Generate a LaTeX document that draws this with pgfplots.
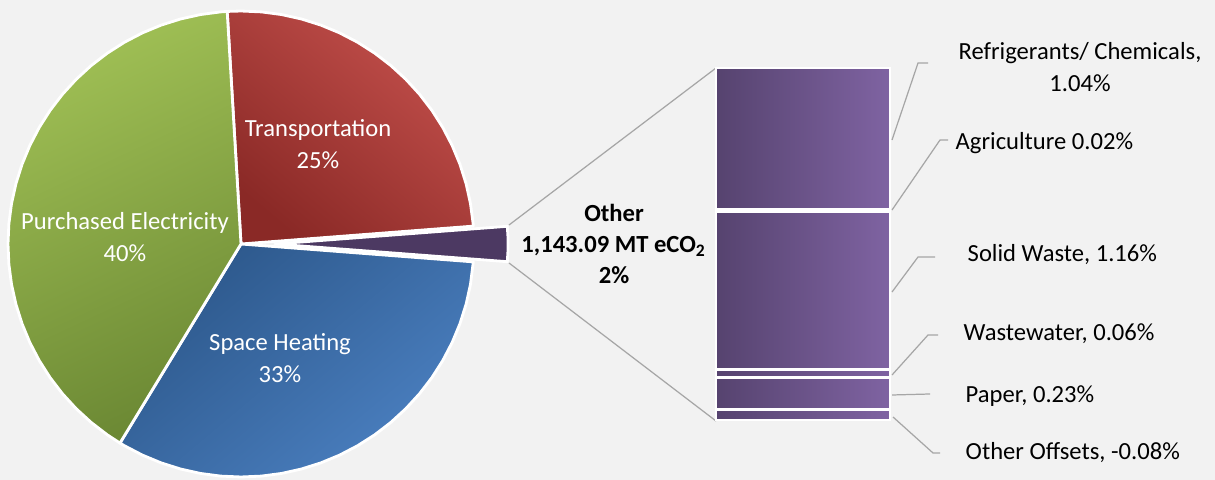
\documentclass[border=0pt]{standalone}
\usepackage{fontspec}
\setmainfont{Carlito}
\usepackage{pgfplots}
\pgfplotsset{compat=1.18}
\usepgfplotslibrary{polar}
\definecolor{bg}{HTML}{F2F2F2}
\definecolor{greenL}{HTML}{A0C055}
\definecolor{greenD}{HTML}{6C8934}
\definecolor{redL}{HTML}{C4504C}
\definecolor{redD}{HTML}{8A2926}
\definecolor{blueL}{HTML}{4B80C1}
\definecolor{blueD}{HTML}{2C578A}
\definecolor{purL}{HTML}{7F63A2}
\definecolor{purM}{HTML}{4C3962}
\definecolor{purE}{HTML}{56436F}
\definecolor{lead}{HTML}{A6A6A6}
\begin{document}
\begin{tikzpicture}
\fill[bg] (0,0) rectangle (12.15cm,4.8cm);
\begin{axis}[at={(0,0)}, anchor=south west, scale only axis,
  width=12.15cm, height=4.8cm,
  xmin=-241, xmax=974, ymin=-236, ymax=244,
  hide axis, clip=false]
% Transportation 25%
\addplot[data cs=polar, draw=white, line width=0.8pt, line join=round,
  top color=redL, bottom color=redD, shading angle=-40]
  coordinates {(0,0) (93.4,233) (90,233) (85,233) (80,233) (75,233) (70,233)
  (65,233) (60,233) (55,233) (50,233) (45,233) (40,233) (35,233) (30,233)
  (25,233) (20,233) (15,233) (10,233) (5,233) (4.4,233)} -- cycle;
% Space Heating 33%
\addplot[data cs=polar, draw=white, line width=0.8pt, line join=round,
  top color=blueD, bottom color=blueL, shading angle=40]
  coordinates {(0,0) (-4.4,233) (-10,233) (-15,233) (-20,233) (-25,233)
  (-30,233) (-35,233) (-40,233) (-45,233) (-50,233) (-55,233) (-60,233)
  (-65,233) (-70,233) (-75,233) (-80,233) (-85,233) (-90,233) (-95,233)
  (-100,233) (-105,233) (-110,233) (-115,233) (-120,233) (-121.3,233)} -- cycle;
% Purchased Electricity 40%
\addplot[data cs=polar, draw=white, line width=0.8pt, line join=round,
  top color=greenL, bottom color=greenD, shading angle=25]
  coordinates {(0,0) (238.7,233) (235,233) (230,233) (225,233) (220,233)
  (215,233) (210,233) (205,233) (200,233) (195,233) (190,233) (185,233)
  (180,233) (175,233) (170,233) (165,233) (160,233) (155,233) (150,233)
  (145,233) (140,233) (135,233) (130,233) (125,233) (120,233) (115,233)
  (110,233) (105,233) (100,233) (95,233) (93.4,233)} -- cycle;
% Other 2% (exploded)
\addplot[draw=white, line width=0.8pt, line join=round, fill=purM]
  coordinates {(34,0) (266.3,17.7) (266.9,8.1) (267,0) (266.9,-8.1) (266.3,-17.7)} -- cycle;
% connector lines
\addplot[lead, line width=0.35pt] coordinates {(268,19) (475,176)};
\addplot[lead, line width=0.35pt] coordinates {(268,-19) (475,-177)};
% leader lines
\addplot[lead, line width=0.35pt] coordinates {(651,104) (677,181) (687,181)};
\addplot[lead, line width=0.35pt] coordinates {(651,34) (699,104) (707,104)};
\addplot[lead, line width=0.35pt] coordinates {(651,-48) (677,-13) (694,-13)};
\addplot[lead, line width=0.35pt] coordinates {(651,-131) (687,-91) (697,-91)};
\addplot[lead, line width=0.35pt] coordinates {(651,-151) (689,-150)};
\addplot[lead, line width=0.35pt] coordinates {(652,-173) (692,-209) (699,-209)};
% labels
\begin{scope}[every node/.style={font=\fontsize{7}{8.9}\selectfont, align=center, inner sep=0pt}]
\node[text=white] at (axis cs:77,100) {Transportation\\25\%};
\node[text=white] at (axis cs:-116,7) {Purchased Electricity\\40\%};
\node[text=white] at (axis cs:39,-114) {Space Heating\\33\%};
\node[font=\fontsize{7}{8.9}\selectfont\bfseries] at (axis cs:373,0) {Other\\1,143.09 MT eCO\textsubscript{2}\\2\%};
\node at (axis cs:839,177) {Refrigerants/ Chemicals,\\1.04\%};
\node[anchor=west] at (axis cs:714,101) {Agriculture 0.02\%};
\node[anchor=west] at (axis cs:726,-11) {Solid Waste, 1.16\%};
\node[anchor=west] at (axis cs:722,-90) {Wastewater, 0.06\%};
\node[anchor=west] at (axis cs:724,-152) {Paper, 0.23\%};
\node[anchor=west] at (axis cs:724,-209) {Other Offsets, -0.08\%};
\end{scope}
\end{axis}
% Bar of "Other": magnitudes of the six components (percent of total)
\begin{axis}[at={(7.16cm,0.60cm)}, anchor=south west, scale only axis,
  width=1.74cm, height=3.52cm, hide axis, clip=false,
  xmin=-0.5, xmax=0.5, ymin=0, ymax=2.59,
  ybar stacked, bar width=1.74cm]
\addplot[draw=white, line width=0.8pt, left color=purE, middle color=purM, right color=purL] coordinates {(0,0.08)}; % Other Offsets (-0.08)
\addplot[draw=white, line width=0.8pt, left color=purE, middle color=purM, right color=purL] coordinates {(0,0.23)}; % Paper
\addplot[draw=white, line width=0.8pt, left color=purE, middle color=purM, right color=purL] coordinates {(0,0.06)}; % Wastewater
\addplot[draw=white, line width=0.8pt, left color=purE, middle color=purM, right color=purL] coordinates {(0,1.16)}; % Solid Waste
\addplot[draw=white, line width=0.8pt, left color=purE, middle color=purM, right color=purL] coordinates {(0,0.02)}; % Agriculture
\addplot[draw=white, line width=0.8pt, left color=purE, middle color=purM, right color=purL] coordinates {(0,1.04)}; % Refrigerants/Chemicals
\end{axis}
\end{tikzpicture}
\end{document}
